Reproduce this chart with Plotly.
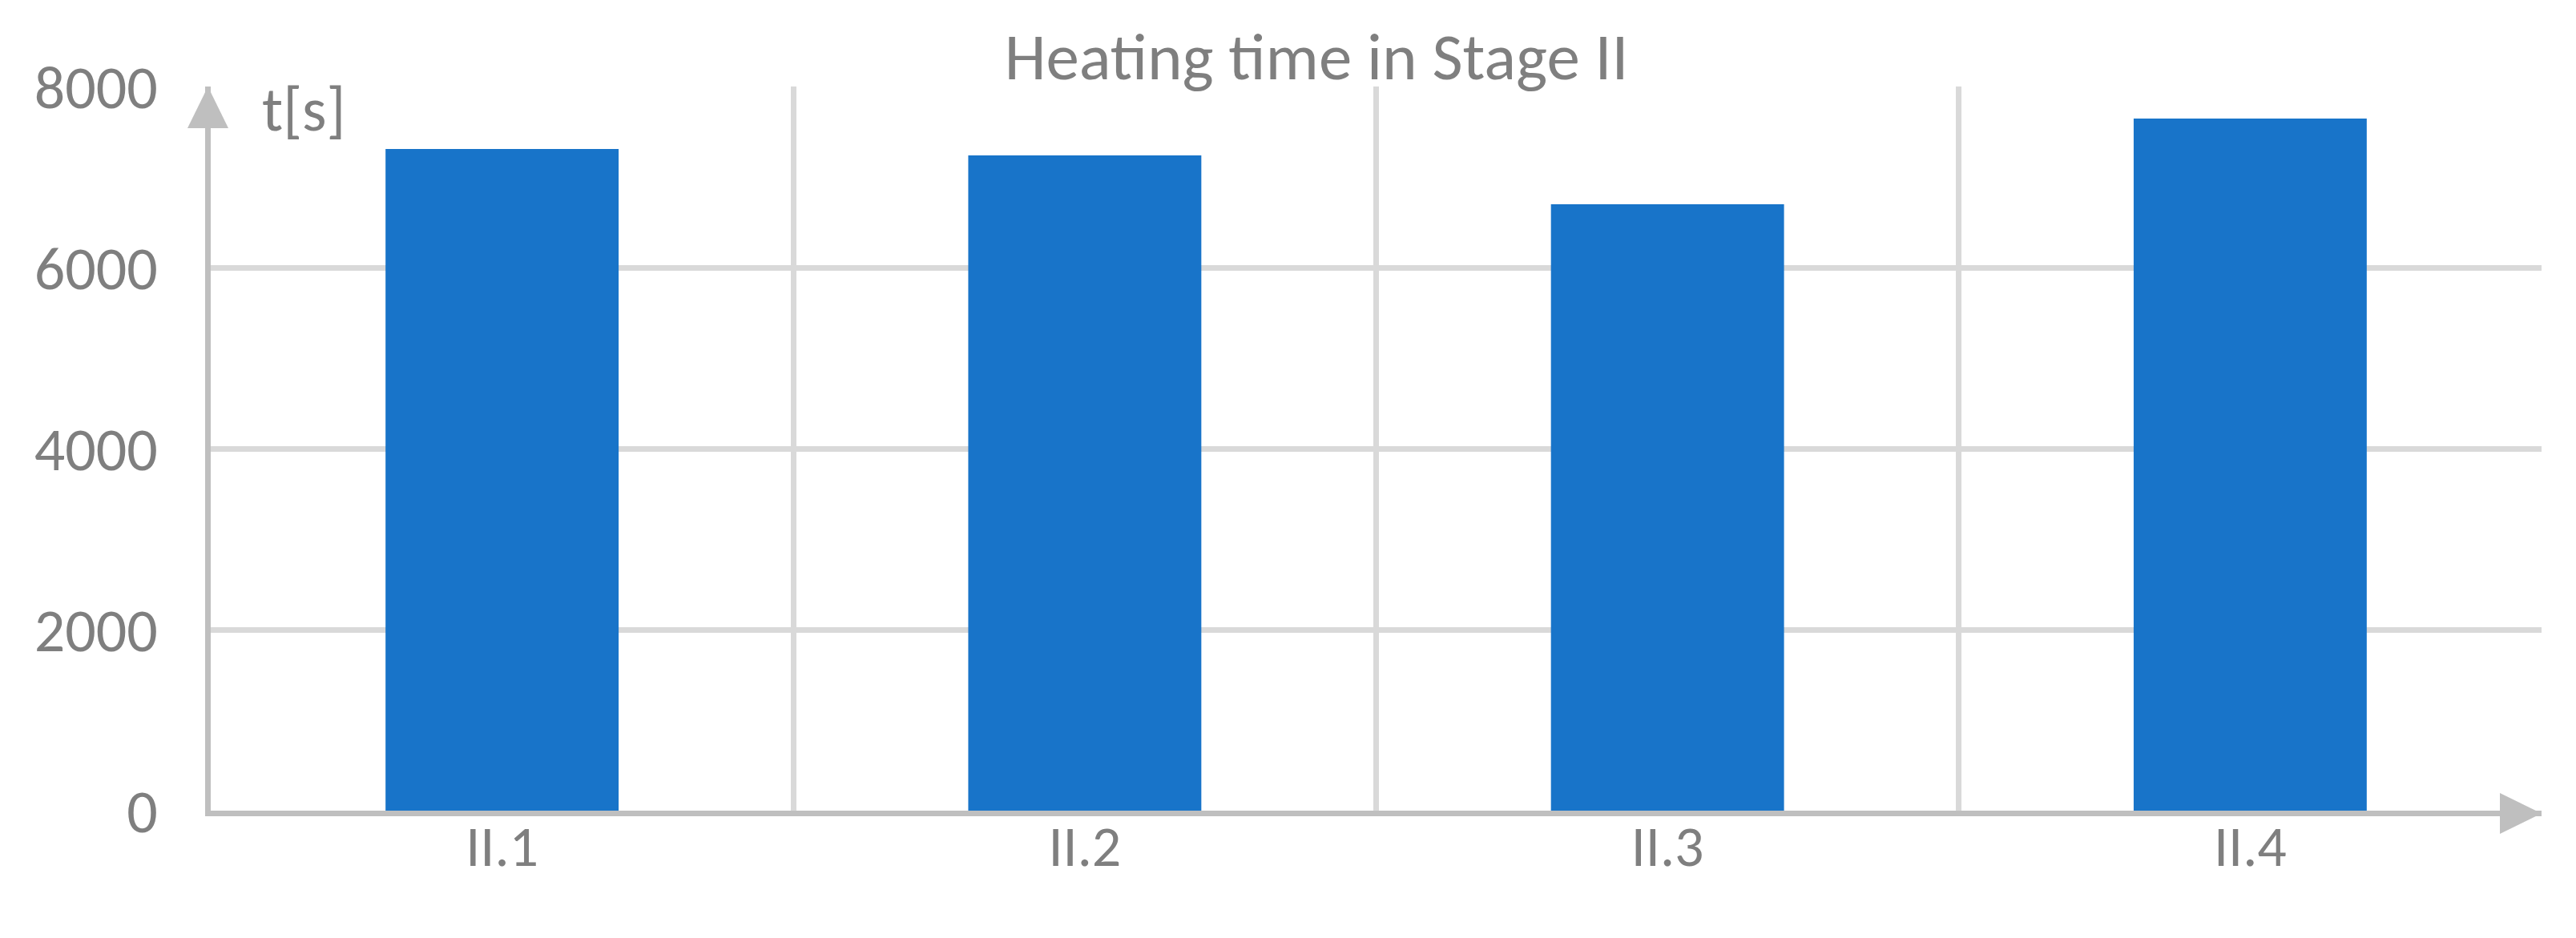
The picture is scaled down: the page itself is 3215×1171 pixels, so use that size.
import plotly.graph_objects as go

categories = ["II.1", "II.2", "II.3", "II.4"]
heating_time = [7310, 7240, 6700, 7645]
y_ticks = [0, 2000, 4000, 6000, 8000]
title_text = "Heating time in Stage II"
y_unit = "t[s]"

# page body adds an 8px offset; figure size compensates
OFF = 8
W, H = 3215 - OFF, 1171 - OFF
ML, MR, MT, MB = 255, 43, 100, 159
FONT = "Carlito, Calibri, 'Liberation Sans Narrow', 'Arial Narrow', sans-serif"
GRAY_TXT = "#7F7F7F"
GRID = "#D9D9D9"
AXIS = "#BFBFBF"
BAR = "#1874C9"

fig = go.Figure()
fig.add_trace(go.Bar(x=categories, y=heating_time, marker=dict(color=BAR, line=dict(width=0)),
                     width=0.4, showlegend=False))

ymax = y_ticks[-1]
n = len(categories)

fig.update_layout(
    width=W, height=H,
    margin=dict(l=ML, r=MR, t=MT, b=MB, pad=0),
    paper_bgcolor="white", plot_bgcolor="white",
    font=dict(family=FONT, color=GRAY_TXT, size=76),
    title=dict(text=title_text, x=(1643 - OFF) / W, xref="container", xanchor="center",
               y=1 - (70 - OFF) / H, yref="container", yanchor="middle",
               font=dict(family=FONT, size=83, color=GRAY_TXT)),
    xaxis=dict(type="category", range=[-0.5, n - 0.5], tickson="boundaries",
               showgrid=True, gridcolor=GRID, gridwidth=7,
               showline=True, linecolor=AXIS, linewidth=7,
               ticks="", tickfont=dict(size=72, color=GRAY_TXT), ticklabelstandoff=-24),
    yaxis=dict(range=[0, ymax], tickvals=y_ticks, showgrid=True, gridcolor=GRID, gridwidth=7,
               zeroline=False, showline=True, linecolor=AXIS, linewidth=7,
               ticks="", tickfont=dict(size=76, color=GRAY_TXT), ticklabelstandoff=44),
    bargap=0.6,
)

# arrowheads on axes (pixel-sized triangles anchored at axis ends)
fig.add_shape(type="path", xref="paper", yref="paper", xsizemode="pixel", ysizemode="pixel",
              xanchor=0, yanchor=1, path="M -29 -52 L 22 -52 L -3.5 0 Z",
              fillcolor=AXIS, line=dict(width=0), layer="above")
fig.add_shape(type="path", xref="paper", yref="paper", xsizemode="pixel", ysizemode="pixel",
              xanchor=1, yanchor=0, path="M -52 22 L -52 -29 L 0 -3.5 Z",
              fillcolor=AXIS, line=dict(width=0), layer="above")

fig.add_annotation(text=y_unit, xref="paper", yref="paper", x=(325 - OFF - ML) / (W - ML - MR),
                   y=1 - (137 - OFF - MT) / (H - MT - MB), xanchor="left", yanchor="middle",
                   showarrow=False, font=dict(family=FONT, size=78, color=GRAY_TXT))

fig.write_html("out.html")
